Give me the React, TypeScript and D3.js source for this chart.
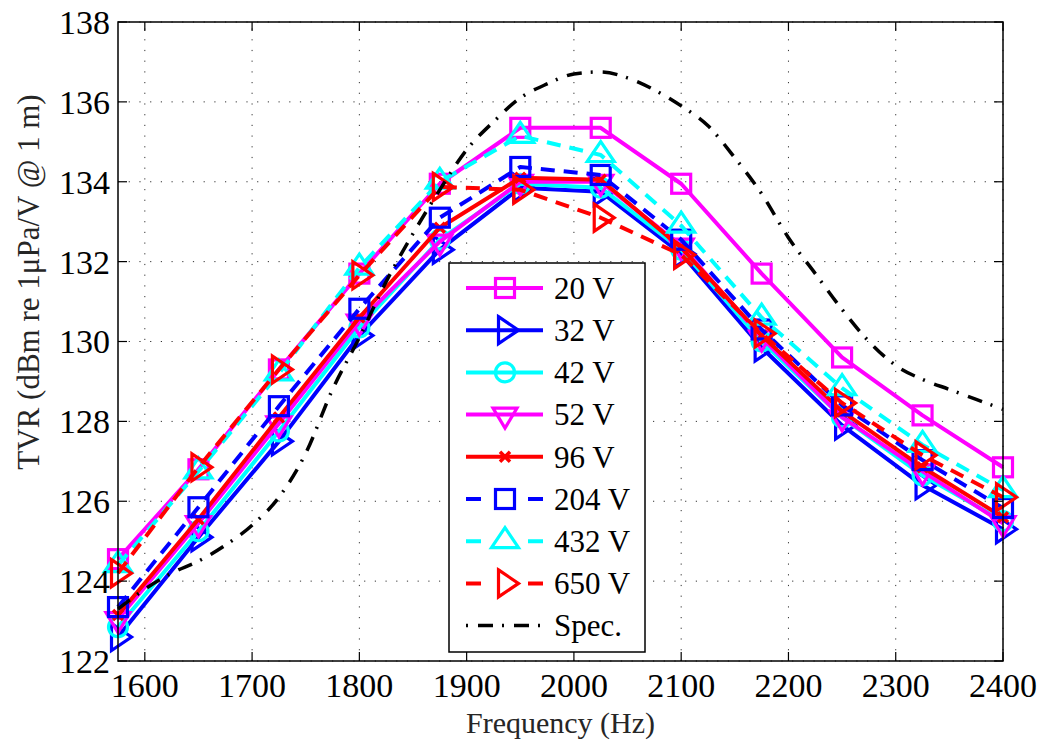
import * as d3 from 'd3'

// frequencies (Hz) of the measured points
const FREQS = [1575, 1650, 1725, 1800, 1875, 1950, 2025, 2100, 2175, 2250, 2325, 2400]

// TVR per drive voltage (dB)
const V20 = [124.55, 126.8, 129.3, 131.7, 133.95, 135.35, 135.35, 133.95, 131.7, 129.6, 128.15, 126.85]
const V32 = [122.6, 125.1, 127.5, 130.15, 132.3, 133.85, 133.75, 132.2, 129.85, 127.9, 126.4, 125.3]
const V42 = [122.85, 125.25, 127.75, 130.35, 132.55, 133.95, 133.85, 132.3, 130.0, 128.1, 126.65, 125.5]
const V52 = [123.05, 125.45, 127.95, 130.5, 132.5, 134.0, 134.0, 132.4, 130.1, 128.1, 126.75, 125.45]
const V96 = [123.15, 125.55, 128.1, 130.6, 132.85, 134.1, 134.05, 132.35, 130.15, 128.25, 126.85, 125.6]
const V204 = [123.35, 125.85, 128.38, 130.82, 133.1, 134.37, 134.17, 132.55, 130.3, 128.4, 127.03, 125.83]
const V432 = [124.4, 126.75, 129.2, 131.85, 134.0, 135.15, 134.67, 132.9, 130.6, 128.83, 127.41, 126.28]
const V650 = [124.2, 126.85, 129.3, 131.66, 133.87, 133.8, 133.1, 132.17, 130.2, 128.46, 127.15, 126.1]

// specification curve, read every 25 Hz
const SPEC_FREQS = [
  1575, 1600, 1625, 1650, 1675, 1700, 1725, 1750, 1775, 1800, 1825, 1850, 1875, 1900, 1925, 1950, 1975,
  2000, 2025, 2050, 2075, 2100, 2125, 2150, 2175, 2200, 2225, 2250, 2275, 2300, 2325, 2350, 2375, 2400,
]
const SPEC = [
  123.3, 123.8, 124.2, 124.5, 124.9, 125.4, 126.1, 127.2, 128.8, 130.1, 131.5, 132.7, 133.8, 134.8, 135.5,
  136.1, 136.45, 136.7, 136.75, 136.6, 136.3, 135.9, 135.4, 134.6, 133.7, 132.6, 131.7, 130.8, 130.0, 129.4,
  129.05, 128.8, 128.55, 128.3,
]

const X_TICKS = [1600, 1700, 1800, 1900, 2000, 2100, 2200, 2300, 2400]
const Y_TICKS = [122, 124, 126, 128, 130, 132, 134, 136, 138]

const SERIES = [
  { label: '20 V', values: V20, color: '#ff00ff', dashed: false, marker: 'square' },
  { label: '32 V', values: V32, color: '#0000ff', dashed: false, marker: 'right' },
  { label: '42 V', values: V42, color: '#00ffff', dashed: false, marker: 'circle' },
  { label: '52 V', values: V52, color: '#ff00ff', dashed: false, marker: 'down' },
  { label: '96 V', values: V96, color: '#ff0000', dashed: false, marker: 'x' },
  { label: '204 V', values: V204, color: '#0000ff', dashed: true, marker: 'square' },
  { label: '432 V', values: V432, color: '#00ffff', dashed: true, marker: 'up' },
  { label: '650 V', values: V650, color: '#ff0000', dashed: true, marker: 'right' },
]

const FONT = "'Liberation Serif', 'DejaVu Serif', serif"
const W = 1049
const H = 753
const margin = { left: 118, right: 46, top: 22, bottom: 92 }

function Marker({ type, x, y, color }: { type: string; x: number; y: number; color: string }) {
  const common = { fill: 'none', stroke: color, strokeWidth: 3.2, strokeLinejoin: 'miter' as const }
  if (type === 'square') return <rect x={x - 9.5} y={y - 9.5} width={19} height={19} {...common} />
  if (type === 'circle') return <circle cx={x} cy={y} r={9.5} {...common} />
  if (type === 'right')
    return <polygon points={`${x - 6.5},${y - 13.5} ${x + 13.5},${y} ${x - 6.5},${y + 13.5}`} {...common} />
  if (type === 'down')
    return <polygon points={`${x - 12},${y - 6.5} ${x + 12},${y - 6.5} ${x},${y + 13.5}`} {...common} />
  if (type === 'up')
    return <polygon points={`${x - 13.5},${y + 6.5} ${x + 13.5},${y + 6.5} ${x},${y - 13.5}`} {...common} />
  // x marker
  return (
    <path
      d={`M${x - 5},${y - 5}L${x + 5},${y + 5}M${x - 5},${y + 5}L${x + 5},${y - 5}`}
      fill="none"
      stroke={color}
      strokeWidth={3.5}
    />
  )
}

export default function App() {
  const x0 = margin.left
  const x1 = W - margin.right
  const y0 = margin.top
  const y1 = H - margin.bottom

  const xScale = d3.scaleLinear().domain([1575, 2400]).range([x0, x1])
  const yScale = d3.scaleLinear().domain([122, 138]).range([y1, y0])

  const line = d3
    .line<number>()
    .x((_, i) => xScale(FREQS[i]))
    .y(d => yScale(d))

  const specLine = d3
    .line<number>()
    .x((_, i) => xScale(SPEC_FREQS[i]))
    .y(d => yScale(d))
    .curve(d3.curveMonotoneX)

  const tickLen = 9
  const gridDash = '1.2,9.5'

  // legend layout
  const lg = { x: 449, y: 263, w: 196, h: 389 }
  const rowH = 42.2
  const firstRow = 288
  const items = [
    ...SERIES.map(s => ({ ...s, spec: false })),
    { label: 'Spec.', values: [], color: '#000', dashed: false, marker: '', spec: true },
  ]

  return (
    <svg
      width={W}
      height={H}
      style={{ position: 'absolute', left: 0, top: 0, background: '#fff', fontFamily: FONT }}
    >
      <rect x={0} y={0} width={W} height={H} fill="#fff" />

      {/* grid */}
      {X_TICKS.map(t => (
        <line key={`gx${t}`} x1={xScale(t)} x2={xScale(t)} y1={y1} y2={y0} stroke="#333" strokeWidth={1} strokeDasharray={gridDash} />
      ))}
      {Y_TICKS.map(t => (
        <line key={`gy${t}`} x1={x0} x2={x1} y1={yScale(t)} y2={yScale(t)} stroke="#333" strokeWidth={1} strokeDasharray={gridDash} />
      ))}

      {/* data series */}
      {SERIES.map(s => (
        <g key={s.label}>
          <path
            d={line(s.values) || ''}
            fill="none"
            stroke={s.color}
            strokeWidth={4}
            strokeDasharray={s.dashed ? '14,9' : undefined}
            strokeLinejoin="round"
          />
          {s.values.map((v, i) => (
            <Marker key={i} type={s.marker} x={xScale(FREQS[i])} y={yScale(v)} color={s.color} />
          ))}
        </g>
      ))}
      <path d={specLine(SPEC) || ''} fill="none" stroke="#000" strokeWidth={3.5} strokeDasharray="15,9,2,10" />

      {/* axes box and ticks */}
      <rect x={x0} y={y0} width={x1 - x0} height={y1 - y0} fill="none" stroke="#000" strokeWidth={1.5} />
      {X_TICKS.map(t => (
        <g key={`tx${t}`}>
          <line x1={xScale(t)} x2={xScale(t)} y1={y1} y2={y1 - tickLen} stroke="#000" strokeWidth={1.2} />
          <line x1={xScale(t)} x2={xScale(t)} y1={y0} y2={y0 + tickLen} stroke="#000" strokeWidth={1.2} />
          <text x={xScale(t)} y={697} textAnchor="middle" fontSize={34} fill="#000">
            {t}
          </text>
        </g>
      ))}
      {Y_TICKS.map(t => (
        <g key={`ty${t}`}>
          <line x1={x0} x2={x0 + tickLen} y1={yScale(t)} y2={yScale(t)} stroke="#000" strokeWidth={1.2} />
          <line x1={x1} x2={x1 - tickLen} y1={yScale(t)} y2={yScale(t)} stroke="#000" strokeWidth={1.2} />
          <text x={110} y={yScale(t)} dy="0.35em" textAnchor="end" fontSize={34} fill="#000">
            {t}
          </text>
        </g>
      ))}

      {/* axis labels */}
      <text x={(x0 + x1) / 2} y={733} textAnchor="middle" fontSize={30} fill="#262626">
        Frequency (Hz)
      </text>
      <text transform="translate(39, 282) rotate(-90)" textAnchor="middle" fontSize={31} fill="#262626">
        TVR (dBm re 1μPa/V @ 1 m)
      </text>

      {/* legend */}
      <rect x={lg.x} y={lg.y} width={lg.w} height={lg.h} fill="#fff" stroke="#000" strokeWidth={1.5} />
      {items.map((it, i) => {
        const cy = firstRow + i * rowH
        return (
          <g key={`lg${it.label}`}>
            {it.spec ? (
              <line x1={466} x2={543} y1={cy} y2={cy} stroke="#000" strokeWidth={3.5} strokeDasharray="2,10,15,9" />
            ) : (
              <line
                x1={466}
                x2={543}
                y1={cy}
                y2={cy}
                stroke={it.color}
                strokeWidth={4}
                strokeDasharray={it.dashed ? '15,47' : undefined}
              />
            )}
            {!it.spec && <Marker type={it.marker} x={505} y={cy} color={it.color} />}
            <text x={554} y={cy} dy="0.35em" fontSize={31} fill="#000">
              {it.label}
            </text>
          </g>
        )
      })}
    </svg>
  )
}
